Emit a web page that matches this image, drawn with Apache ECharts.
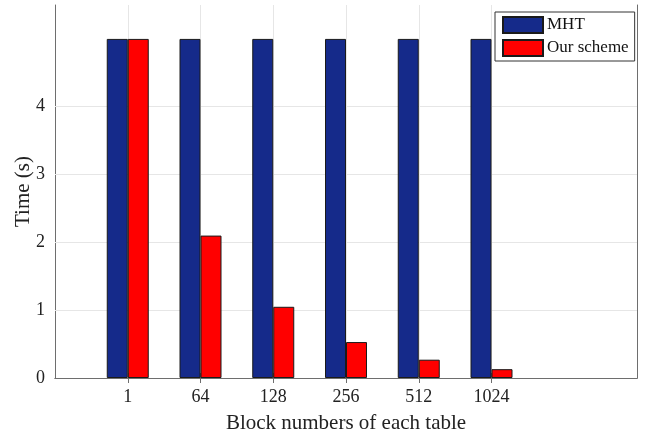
<!DOCTYPE html>
<html>
<head>
<meta charset="utf-8">
<script src="https://cdn.jsdelivr.net/npm/echarts@6/dist/echarts.min.js"></script>
<style>
  html, body { margin: 0; padding: 0; background: #fff; }
  #chart { width: 645px; height: 439px; }
</style>
</head>
<body>
<div id="chart"></div>
<script>
// Block counts per table and measured times (seconds)
const blockNumbers = ['1', '64', '128', '256', '512', '1024'];
const mhtTime = [5, 5, 5, 5, 5, 5];
const ourSchemeTime = [5, 2.1, 1.05, 0.53, 0.27, 0.13];
const yTicks = [0, 1, 2, 3, 4];

// One empty slot before the groups and two after, like the original axis limits 0..8
const axisCats = [''].concat(blockNumbers, ['', '']);
const pad = arr => ['-'].concat(arr, ['-', '-']);
const isGroup = idx => idx >= 1 && idx <= blockNumbers.length;

const FONT = '"Liberation Serif", "Times New Roman", serif';
const AXIS = '#6e6e6e';
const GRID = '#e6e6e6';

const chart = echarts.init(document.getElementById('chart'));
chart.setOption({
  backgroundColor: '#ffffff',
  animation: false,
  textStyle: { fontFamily: FONT },
  grid: { left: 55, right: 8, top: 5, bottom: 61, containLabel: false, outerBoundsMode: 'none' },
  legend: {
    orient: 'vertical',
    left: 495,
    top: 12,
    width: 139,
    padding: [4, 6, 4, 7],
    itemWidth: 40,
    itemHeight: 16,
    itemGap: 5,
    icon: 'rect',
    borderColor: '#333',
    borderWidth: 1,
    backgroundColor: '#fff',
    textStyle: { fontFamily: FONT, fontSize: 17, color: '#111', padding: [0, 0, 0, -1] },
    data: ['MHT', 'Our scheme']
  },
  xAxis: [
    {
      type: 'category',
      data: axisCats,
      boundaryGap: false,
      position: 'bottom',
      name: 'Block numbers of each table',
      nameLocation: 'middle',
      nameGap: 35,
      nameTextStyle: { fontFamily: FONT, fontSize: 21, color: '#222' },
      axisLine: { lineStyle: { color: AXIS, width: 1 } },
      axisTick: { inside: true, length: 5, interval: isGroup, lineStyle: { color: AXIS } },
      axisLabel: { interval: isGroup, margin: 10, fontFamily: FONT, fontSize: 18, color: '#222' },
      splitLine: { show: true, interval: isGroup, lineStyle: { color: GRID, width: 1 } }
    },
    {
      type: 'category',
      data: axisCats,
      boundaryGap: false,
      position: 'top',
      axisLine: { lineStyle: { color: AXIS, width: 1 } },
      axisTick: { inside: true, length: 5, interval: isGroup, lineStyle: { color: AXIS } },
      axisLabel: { show: false },
      splitLine: { show: false }
    }
  ],
  yAxis: [
    {
      type: 'value',
      min: 0,
      max: 5.5,
      interval: 1,
      name: 'Time (s)',
      nameLocation: 'middle',
      nameGap: 21,
      nameMoveOverlap: false,
      nameTextStyle: { fontFamily: FONT, fontSize: 21, color: '#222' },
      axisLine: { show: true, lineStyle: { color: AXIS, width: 1 } },
      axisTick: { show: true, inside: true, length: 5, customValues: yTicks, lineStyle: { color: AXIS } },
      axisLabel: { customValues: yTicks, margin: 10, fontFamily: FONT, fontSize: 18, color: '#222' },
      splitLine: { show: false }
    },
    {
      type: 'value',
      min: 0,
      max: 5.5,
      interval: 1,
      position: 'right',
      axisLine: { show: true, lineStyle: { color: AXIS, width: 1 } },
      axisTick: { show: true, inside: true, length: 5, customValues: yTicks, lineStyle: { color: AXIS } },
      axisLabel: { show: false },
      splitLine: { show: false }
    }
  ],
  series: [
    {
      // horizontal grid lines at the labelled ticks, kept beneath the bars
      type: 'line',
      data: [],
      silent: true,
      z: 0,
      markLine: {
        silent: true,
        z: 1,
        symbol: 'none',
        animation: false,
        label: { show: false },
        lineStyle: { color: GRID, type: 'solid', width: 1 },
        data: yTicks.filter(v => v > 0).map(v => ({ yAxis: v }))
      }
    },
    {
      name: 'MHT',
      type: 'bar',
      data: pad(mhtTime),
      barWidth: 21,
      barGap: '0%',
      itemStyle: { color: '#152a8a', borderColor: '#1a1a1a', borderWidth: 1 },
      z: 3
    },
    {
      name: 'Our scheme',
      type: 'bar',
      data: pad(ourSchemeTime),
      barWidth: 21,
      barGap: '0%',
      itemStyle: { color: '#ff0000', borderColor: '#1a1a1a', borderWidth: 1 },
      z: 3
    }
  ]
});
</script>
</body>
</html>
